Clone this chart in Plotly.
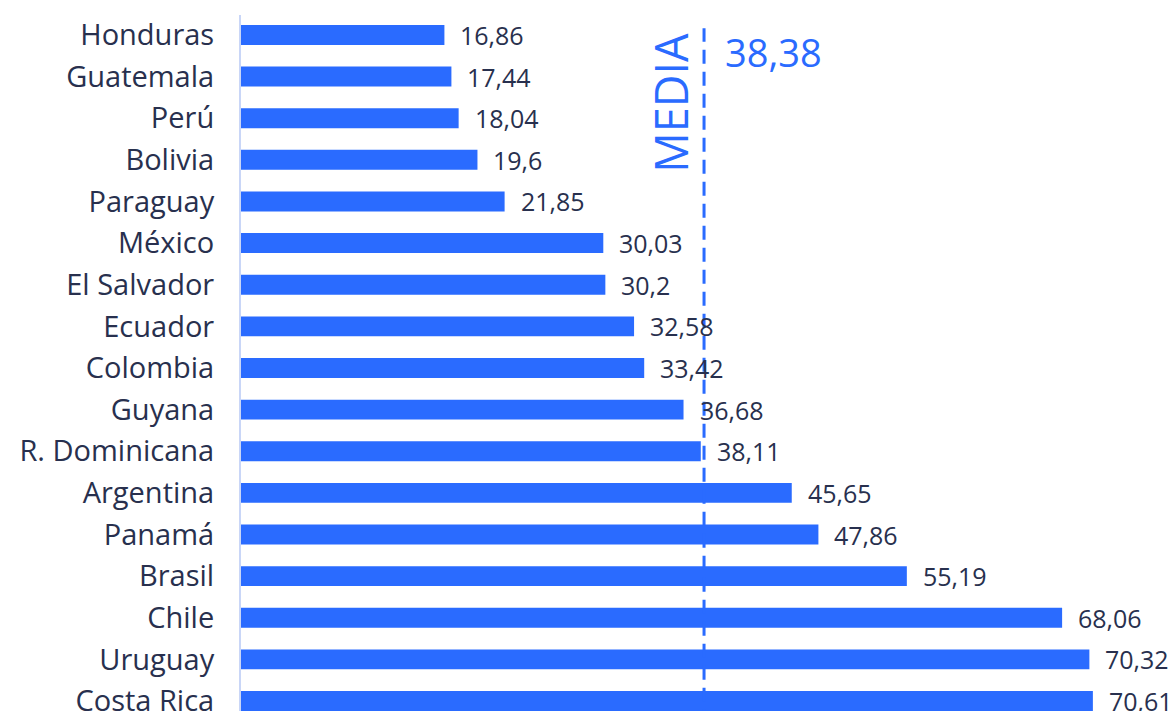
import plotly.graph_objects as go

countries = ["Honduras", "Guatemala", "Perú", "Bolivia", "Paraguay", "México",
             "El Salvador", "Ecuador", "Colombia", "Guyana", "R. Dominicana",
             "Argentina", "Panamá", "Brasil", "Chile", "Uruguay", "Costa Rica"]
values = [16.86, 17.44, 18.04, 19.6, 21.85, 30.03, 30.2, 32.58, 33.42, 36.68,
          38.11, 45.65, 47.86, 55.19, 68.06, 70.32, 70.61]
media = 38.38

BAR = "#2a6bff"
INK = "#28304e"
FONT = "Open Sans"


def es(v):
    # decimal comma, no trailing zeros
    return f"{v:g}".replace(".", ",")


fig = go.Figure()
fig.add_trace(go.Bar(
    x=values, y=countries, orientation="h",
    marker=dict(color=BAR, line=dict(width=0)),
    width=0.48, hoverinfo="skip",
))

for c, v in zip(countries, values):
    fig.add_annotation(x=v, y=c, text=es(v), showarrow=False,
                       xanchor="left", yanchor="middle", xshift=14,
                       font=dict(family=FONT, size=25, color=INK))

# average line and its labels
fig.add_shape(type="line", x0=media, x1=media, xref="x", yref="paper",
              y0=-0.05, y1=0.981,
              line=dict(color=BAR, width=3, dash="14px,8px"))
fig.add_annotation(x=media, y=0.874, xref="x", yref="paper", text="MEDIA",
                   textangle=-90, showarrow=False, xanchor="center",
                   yanchor="middle", xshift=-33,
                   font=dict(family=FONT, size=45, color=BAR))
fig.add_annotation(x=media, y=0.947, xref="x", yref="paper", text=es(media),
                   showarrow=False, xanchor="left", yanchor="middle",
                   xshift=19,
                   font=dict(family=FONT, size=38, color=BAR))

fig.update_layout(
    width=1176, height=711,
    margin=dict(l=241, r=0, t=15, b=0),
    paper_bgcolor="white", plot_bgcolor="white",
    showlegend=False,
    xaxis=dict(range=[0, 77.5], visible=False, showgrid=False, zeroline=False,
               automargin=False),
    yaxis=dict(
        type="category", range=[16.24, -0.48], automargin=False,
        showgrid=False, zeroline=False,
        showline=True, linecolor="#c9d6f7", linewidth=2,
        ticks="", ticklabelstandoff=19,
        tickfont=dict(family=FONT, size=29, color=INK),
    ),
)

fig.write_html("out.html")
